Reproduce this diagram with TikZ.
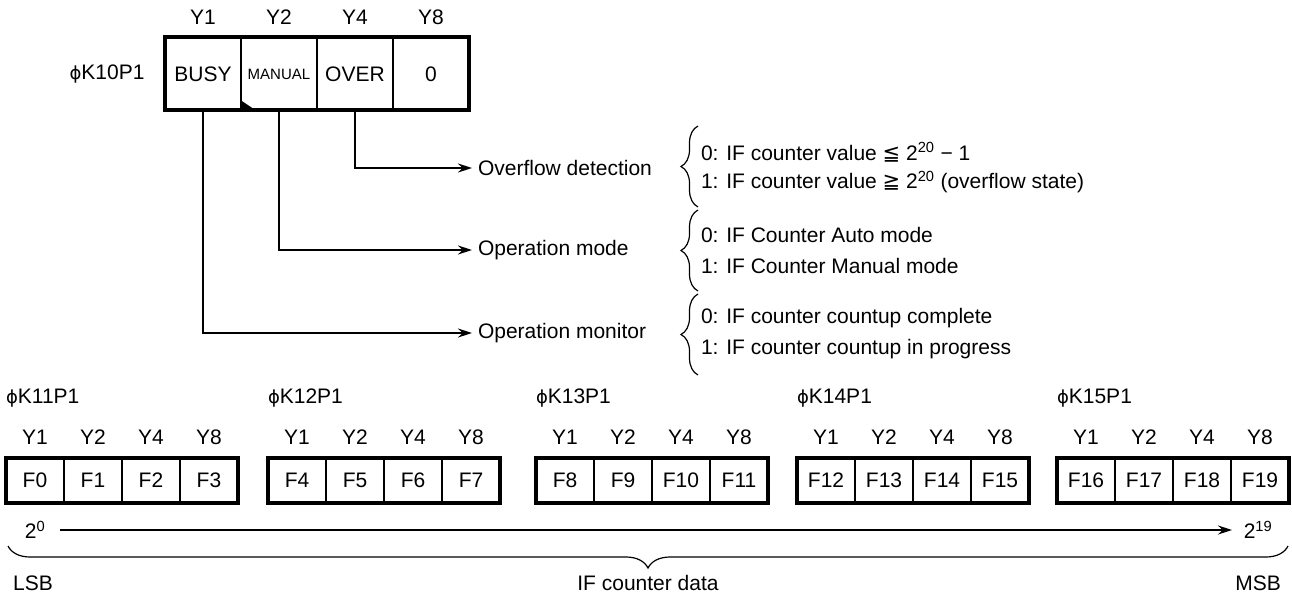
\documentclass[tikz,border=0pt]{standalone}
\usepackage{fontspec}
\setmainfont{Liberation Sans}
\newfontfamily\symf{DejaVu Sans}
\usetikzlibrary{arrows.meta,decorations.pathreplacing}
\newcommand{\phis}{{\symf\fontsize{18}{20}\selectfont ϕ}}
\begin{document}
\begin{tikzpicture}[x=1pt,y=-1pt,
  every node/.style={font=\fontsize{21}{25}\selectfont, inner sep=0pt, outer sep=0pt},
  topcell/.style={draw, line width=1.5pt, minimum width=76pt, minimum height=73pt},
  botcell/.style={draw, line width=1.5pt, minimum width=58pt, minimum height=45pt},
  outer/.style={line width=4pt},
  conn/.style={line width=1.3pt, -{Stealth[length=14pt,width=9pt]}, shorten >=6pt},
  brc/.style={line width=1.2pt, decorate, decoration={brace, amplitude=#1}},
  txt/.style={anchor=west}
]
\useasboundingbox (0,0) rectangle (1292,599);

% ---- top register
\node (k10) at (107,74) {\phis K10P1};
\node (ty1) at (203,17) {Y1};
\node (ty2) at (279,17) {Y2};
\node (ty4) at (355,17) {Y4};
\node (ty8) at (431,17) {Y8};
\node[topcell] (busy) at (203,74) {BUSY};
\node[topcell] (manual) at (279,74) {\fontsize{15}{18}\selectfont MANUAL};
\node[topcell] (over) at (355,74) {OVER};
\node[topcell] (zero) at (431,74) {0};
\draw[outer] (busy.north west) rectangle (zero.south east);
\fill (manual.south west) -- ++(0,-10) -- ++(15,10) -- cycle;

% ---- labels
\node[txt] (ovf) at (478,168) {Overflow detection};
\node[txt] (mode) at (478,250) {Operation mode};
\node[txt] (mon) at (478,333) {Operation monitor};
\draw[conn] (over.south) |- (ovf.west);
\draw[conn] (manual.south) |- (mode.west);
\draw[conn] (busy.south) |- (mon.west);

% ---- braces and explanations
\coordinate (b1t) at (698,126); \coordinate (b1b) at (698,207);
\coordinate (b2t) at (698,210); \coordinate (b2b) at (698,291);
\coordinate (b3t) at (698,294); \coordinate (b3b) at (698,375);
\draw[brc=17pt] (b1b) -- (b1t);
\draw[brc=17pt] (b2b) -- (b2t);
\draw[brc=17pt] (b3b) -- (b3t);
\node[txt] (o0) at (701,152) {0: IF counter value {\symf ≦} 2\textsuperscript{20} − 1};
\node[txt] (o1) at (701,182) {1: IF counter value {\symf ≧} 2\textsuperscript{20} (overflow state)};
\node[txt] (m0) at (701,235) {0: IF Counter Auto mode};
\node[txt] (m1) at (701,266) {1: IF Counter Manual mode};
\node[txt] (n0) at (701,318) {0: IF counter countup complete};
\node[txt] (n1) at (701,349) {1: IF counter countup in progress};

% ---- data registers
\foreach \L [count=\i from 0] in {6,268,536,797,1057} {
  \foreach \j in {0,...,3} {
    \pgfmathtruncatemacro\n{4*\i+\j}
    \pgfmathtruncatemacro\p{2^\j}
    \node[botcell] (f\n) at (\L+29+58*\j, 480.5) {F\n};
    \node (y\n) at (\L+29+58*\j, 437) {Y\p};
  }
  \pgfmathtruncatemacro\k{11+\i}
  \pgfmathtruncatemacro\a{4*\i}
  \pgfmathtruncatemacro\b{4*\i+3}
  \node[anchor=west] (k\k) at (\L,398) {\phis K\k P1};
  \draw[outer] (f\a.north west) rectangle (f\b.south east);
}

% ---- bit weight arrow
\node (p0) at (35,530) {2\textsuperscript{0}};
\node (p19) at (1258,530) {2\textsuperscript{19}};
\draw[line width=1.3pt, -{Stealth[length=14pt,width=9pt]}] (60,530) coordinate (a0) -- (1232,530) coordinate (a1);

% ---- bottom brace
\coordinate (bl) at (8,546);
\coordinate (br) at (1288,546);
\draw[brc=22pt] (br) -- (bl);
\node (lsb) at (33,583) {LSB};
\node (data) at (648,583) {IF counter data};
\node (msb) at (1258,583) {MSB};
\end{tikzpicture}
\end{document}
